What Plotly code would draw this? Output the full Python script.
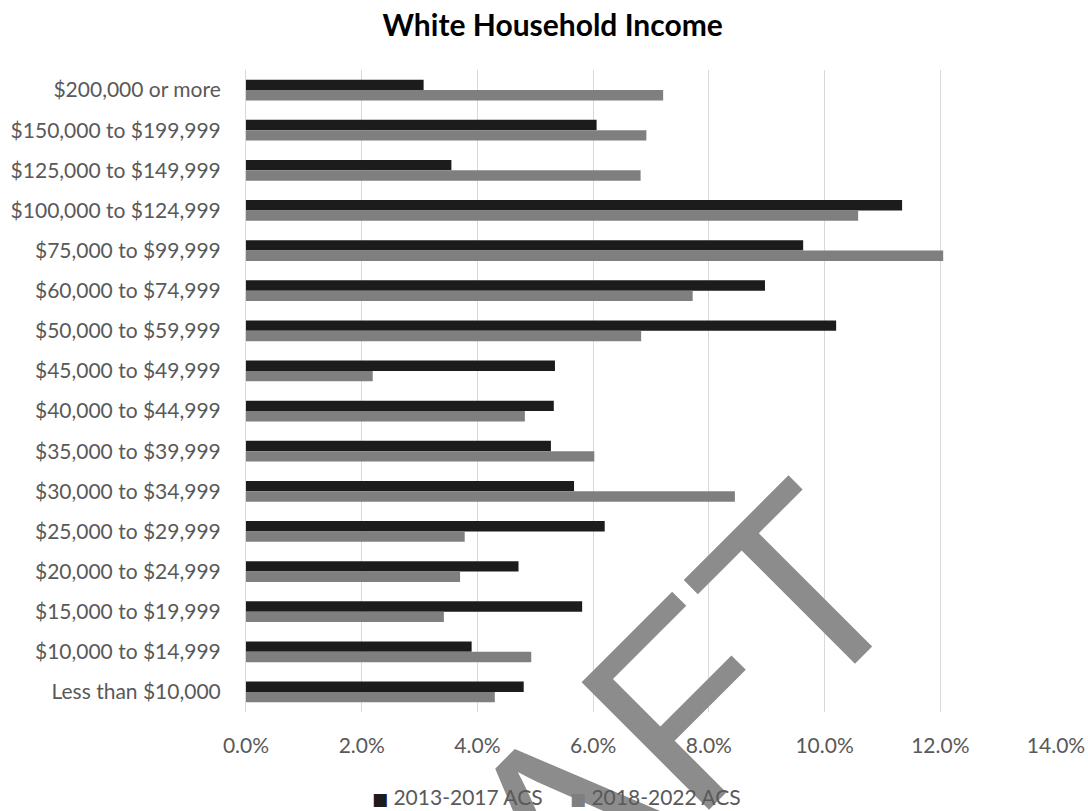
import plotly.graph_objects as go

# Household income brackets, top to bottom
categories = [
    "$200,000 or more",
    "$150,000 to $199,999",
    "$125,000 to $149,999",
    "$100,000 to $124,999",
    "$75,000 to $99,999",
    "$60,000 to $74,999",
    "$50,000 to $59,999",
    "$45,000 to $49,999",
    "$40,000 to $44,999",
    "$35,000 to $39,999",
    "$30,000 to $34,999",
    "$25,000 to $29,999",
    "$20,000 to $24,999",
    "$15,000 to $19,999",
    "$10,000 to $14,999",
    "Less than $10,000",
]

# Share of white households in each bracket
acs_2013_2017 = [0.0307, 0.0606, 0.0355, 0.1134, 0.0963, 0.0897, 0.1020, 0.0534,
                 0.0532, 0.0527, 0.0567, 0.0620, 0.0471, 0.0581, 0.0390, 0.0480]
acs_2018_2022 = [0.0721, 0.0692, 0.0682, 0.1058, 0.1205, 0.0772, 0.0683, 0.0219,
                 0.0482, 0.0602, 0.0845, 0.0378, 0.0370, 0.0342, 0.0493, 0.0430]

series_names = ["2013-2017 ACS", "2018-2022 ACS"]
series_colors = ["#1c1c1c", "#7f7f7f"]
x_ticks = [0, 0.02, 0.04, 0.06, 0.08, 0.10, 0.12, 0.14]

FONT = "Lato"
LABEL_COLOR = "#595959"
LABEL_SIZE = 21

fig = go.Figure()
for values, name, color in zip([acs_2013_2017, acs_2018_2022], series_names, series_colors):
    fig.add_trace(go.Bar(y=categories, x=values, name=name, orientation="h",
                         marker=dict(color=color, line=dict(width=0)),
                         showlegend=False))

# "DRAFT" watermark first, then the legend entries drawn on top of it
annotations = [
    dict(
        text="DRAFT",
        xref="paper", yref="paper",
        x=0.372, y=-0.205,
        xanchor="center", yanchor="middle",
        showarrow=False,
        textangle=-45,
        font=dict(family="Liberation Sans", size=262, color="#8c8c8c"),
    )
]
legend_x = [0.153, 0.398]
for lx, name, color in zip(legend_x, series_names, series_colors):
    annotations.append(dict(
        text=f"<span style='color:{color};font-family:DejaVu Sans;font-size:17px'>■</span> {name}",
        xref="paper", yref="paper",
        x=lx, y=-0.132,
        xanchor="left", yanchor="middle",
        showarrow=False,
        font=dict(family=FONT, size=LABEL_SIZE, color=LABEL_COLOR),
    ))

fig.update_layout(
    width=1088,
    height=811,
    margin=dict(l=246, r=32, t=70, b=99, autoexpand=False),
    paper_bgcolor="white",
    plot_bgcolor="white",
    barmode="group",
    bargap=0.48,
    bargroupgap=0,
    showlegend=False,
    title=dict(
        text="<b>White Household Income</b>",
        x=0.508, xanchor="center", xref="container",
        y=0.968, yanchor="middle", yref="container",
        font=dict(family=FONT, size=30, color="#000000"),
    ),
    font=dict(family=FONT, size=LABEL_SIZE, color=LABEL_COLOR),
    xaxis=dict(
        range=[0, 0.14],
        tickvals=x_ticks,
        tickformat=".1%",
        showgrid=True,
        gridcolor="#d9d9d9",
        gridwidth=1,
        zeroline=False,
        showline=False,
        ticks="",
        automargin=False,
        ticklabelstandoff=19,
        tickfont=dict(family=FONT, size=LABEL_SIZE, color=LABEL_COLOR),
    ),
    yaxis=dict(
        autorange="reversed",
        showgrid=False,
        showline=True,
        linecolor="#d9d9d9",
        linewidth=1,
        ticks="",
        automargin=False,
        ticklabelstandoff=20,
        tickfont=dict(family=FONT, size=LABEL_SIZE, color=LABEL_COLOR),
    ),
    annotations=annotations,
)

fig.write_html("out.html")
